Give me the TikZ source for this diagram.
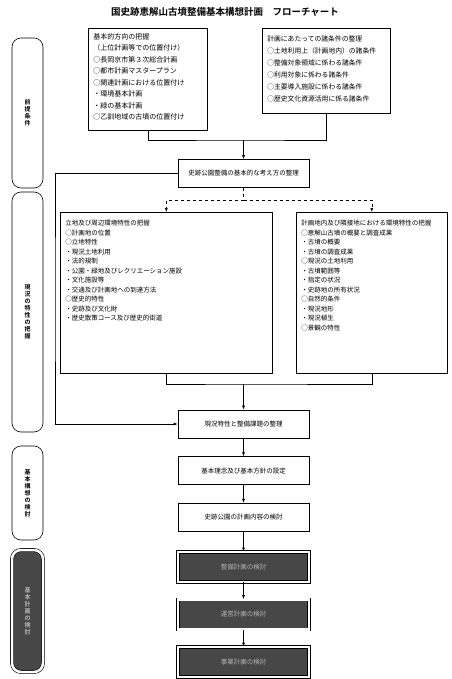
\documentclass[tikz,border=0pt]{standalone}
\usepackage{fontspec}
\setmainfont{Noto Sans CJK JP}[BoldFont={Noto Sans CJK JP Bold}]
\usetikzlibrary{arrows.meta,positioning}

\begin{document}
\begin{tikzpicture}[x=1pt,y=-1pt,>={Latex[length=4pt,width=3pt]},node distance=18pt,line width=0.6pt,
 every node/.style={font=\fontsize{6.5}{9.5}\selectfont},
 frame/.style={draw,anchor=north west,inner sep=0pt},
 list/.style={anchor=north west,align=left,inner sep=0pt},
 stepbox/.style={draw,minimum width=131pt,minimum height=28pt,inner sep=2pt},
 darkbox/.style={stepbox,minimum height=30pt,fill=black!72,text=black!30,double=white,double distance=2.5pt},
 stage/.style={draw,rounded corners=9pt,minimum width=31pt,align=center,inner sep=2pt,font=\fontsize{6}{7}\selectfont\bfseries}]
\useasboundingbox (0,0) rectangle (451,679);
\node[font=\fontsize{9.5}{11}\selectfont\bfseries] (title) at (225,12) {国史跡恵解山古墳整備基本構想計画　フローチャート};

% stages on the left
\node[stage,minimum height=150pt] (pre) at (27.5,113) {前\\提\\条\\件};
\node[stage,minimum height=240pt] (now) at (27.5,312) {現\\況\\の\\特\\性\\の\\把\\握};
\node[stage,minimum height=94pt] (base) at (27.5,493) {基\\本\\構\\想\\の\\検\\討};
\node[stage,minimum height=122pt,fill=black!72,text=black!30,double=white,double distance=2.5pt] (later) at (27.5,611) {基\\本\\計\\画\\の\\検\\討};

% premises
\node[frame,minimum width=119pt,minimum height=102pt] (dir) at (88,28) {};
\node[list,font=\fontsize{7}{11.5}\selectfont] (dirtxt) at (93,33) {基本的方向の把握\\（上位計画等での位置付け）\\○長岡京市第３次総合計画\\○都市計画マスタープラン\\○関連計画における位置付け\\・環境基本計画\\・緑の基本計画\\○乙訓地域の古墳の位置付け};
\node[frame,minimum width=128pt,minimum height=85pt] (cond) at (262,28) {};
\node[list,font=\fontsize{6.8}{12}\selectfont] (condtxt) at (267,35) {計画にあたっての諸条件の整理\\○土地利用上（計画地内）の諸条件\\○整備対象領域に係わる諸条件\\○利用対象に係わる諸条件\\○主要導入施設に係わる諸条件\\○歴史文化資源活用に係る諸条件};
\node[stepbox] (idea) at (243.5,173.5) {史跡公園整備の基本的な考え方の整理};

% present state
\node[frame,minimum width=212pt,minimum height=161pt] (site) at (60,212) {};
\node[list] (sitetxt) at (65,220) {立地及び周辺環境特性の把握\\○計画地の位置\\○立地特性\\・現況土地利用\\・法的規制\\・公園・緑地及びレクリエーション施設\\・文化施設等\\・交通及び計画地への到達方法\\○歴史的特性\\・史跡及び文化財\\・歴史散策コース及び歴史的街道};
\node[frame,minimum width=151pt,minimum height=161pt] (area) at (296,212) {};
\node[list] (areatxt) at (301,220) {計画地内及び隣接地における環境特性の把握\\○恵解山古墳の概要と調査成果\\・古墳の概要\\・古墳の調査成果\\○現況の土地利用\\・古墳範囲等\\・指定の状況\\・史跡地の所有状況\\○自然的条件\\・現況地形\\・現況植生\\○景観の特性};

% main column
\node[stepbox] (issue) at (243.5,424) {現況特性と整備課題の整理};
\node[stepbox,below=of issue] (policy) {基本理念及び基本方針の設定};
\node[stepbox,below=of policy] (plan) {史跡公園の計画内容の検討};
\node[darkbox,below=20pt of plan] (next1) {整備計画の検討};
\node[darkbox,below=17pt of next1] (next2) {運営計画の検討};
\node[darkbox,below=17pt of next2] (next3) {事業計画の検討};

% connectors
\coordinate (join) at (243.5,140);
\coordinate (split) at (243.5,200);
\coordinate (merge) at (243.5,384);
\coordinate (loop) at (55,300);
\draw (dir.south) |- (join) -| (cond.south);
\draw[->] (join) -- (idea);
\draw[dashed] (idea.south) -- (split);
\draw[dashed,->] (split) -| (site.north);
\draw[dashed,->] (split) -| (area.north);
\draw[->] (idea.west) -| (loop) |- (issue.west);
\draw (site.south) |- (merge) -| (area.south);
\draw[->] (merge) -- (issue);
\foreach \a/\b in {issue/policy,policy/plan,plan/next1,next1/next2,next2/next3}
 \draw[->] (\a) -- (\b);
\end{tikzpicture}
\end{document}
